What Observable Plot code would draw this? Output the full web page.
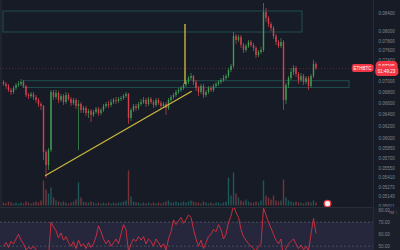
<!DOCTYPE html>
<html><head><meta charset="utf-8">
<script src="https://cdn.jsdelivr.net/npm/d3@7"></script>
<script src="https://cdn.jsdelivr.net/npm/@observablehq/plot@0.6"></script>
<style>
html,body{margin:0;padding:0;background:#171b26;}
#chart{position:relative;width:400px;height:250px;overflow:hidden;background:#171b26;font-family:"Liberation Sans",Arial,sans-serif;}
#chart svg{position:absolute;left:0;display:block;}
#edge{position:absolute;left:0;top:0;width:2px;height:250px;background:#20242f;}
</style></head><body>
<div id="chart"><div id="edge"></div></div>
<script>
// ---- data (ETHBTC-like, log price scale) ----
const firstOpen = 0.06982;
const closes = [.06945,.06908,.06833,.06797,.06870,.06926,.06945,.06982,.06908,.06742,
 .06724,.06761,.06706,.06653,.06582,.06547,.05787,.05589,.05818,.06797,
 .06706,.06779,.06653,.06724,.06617,.06742,.06670,.06600,.06653,.06547,
 .06582,.06477,.06512,.06425,.06460,.06390,.06442,.06494,.06425,.06477,
 .06547,.06582,.06564,.06617,.06653,.06635,.06670,.06688,.06724,.06761,
 .06339,.06477,.06547,.06512,.06582,.06617,.06653,.06582,.06670,.06617,
 .06564,.06653,.06600,.06547,.06582,.06512,.06653,.06706,.06742,.06797,
 .06833,.06870,.06926,.06982,.07057,.07095,.06982,.06870,.06797,.06908,
 .06742,.06797,.06870,.06833,.06908,.06945,.06982,.07019,.07057,.07095,
 .07210,.07288,.07898,.07814,.07877,.07709,.07607,.07689,.07772,.07709,
 .07648,.07505,.07566,.07607,.08423,.08288,.08157,.08069,.07898,.07772,
 .07689,.07772,.06653,.06926,.07057,.07172,.07249,.07133,.07019,.07095,
 .06982,.07057,.06908,.07095,.07327,.07249];
const highs = [.07019,.06982,.06945,.06870,.06908,.06963,.07000,.07038,.07019,.06926,
 .06779,.06797,.06797,.06742,.06688,.06617,.06564,.05818,.05850,.06833,
 .06833,.06833,.06815,.06761,.06761,.06797,.06779,.06706,.06688,.06688,
 .06653,.06617,.06547,.06547,.06494,.06494,.06477,.06529,.06529,.06512,
 .06582,.06617,.06635,.06670,.06688,.06706,.06706,.06724,.06761,.06797,
 .06779,.06512,.06582,.06582,.06617,.06670,.06706,.06688,.06706,.06706,
 .06653,.06688,.06688,.06635,.06617,.06617,.06688,.06742,.06779,.06833,
 .06870,.06908,.06963,.07019,.07095,.07152,.07114,.07019,.06908,.06945,
 .06945,.06833,.06908,.06908,.06945,.06982,.07019,.07057,.07114,.07133,
 .07249,.07327,.07983,.07940,.07919,.07919,.07751,.07730,.07814,.07814,
 .07751,.07689,.07607,.07668,.08628,.08513,.08333,.08200,.08113,.07940,
 .07814,.07856,.07814,.06963,.07095,.07249,.07307,.07288,.07172,.07152,
 .07133,.07095,.07095,.07133,.07406,.07366];
const lows = [.06908,.06851,.06797,.06742,.06761,.06833,.06889,.06908,.06870,.06706,
 .06670,.06688,.06653,.06600,.06529,.06477,.05664,.05397,.05514,.05787,
 .06653,.06670,.06600,.06617,.06564,.06582,.06635,.06547,.06564,.06494,
 .05818,.06425,.06425,.06373,.06339,.06271,.06356,.06408,.06373,.06390,
 .06442,.06512,.06512,.06529,.06582,.06582,.06600,.06635,.06653,.06688,
 .06238,.06288,.06442,.06460,.06477,.06547,.06582,.06529,.06547,.06582,
 .06512,.06529,.06564,.06494,.06512,.06390,.06477,.06617,.06670,.06706,
 .06761,.06797,.06833,.06889,.06945,.07019,.06926,.06815,.06724,.06761,
 .06688,.06706,.06761,.06797,.06797,.06870,.06908,.06945,.06982,.07019,
 .07057,.07172,.07249,.07730,.07772,.07648,.07546,.07566,.07648,.07668,
 .07586,.07445,.07465,.07525,.07566,.08200,.08091,.08004,.07835,.07709,
 .07648,.07648,.06477,.06582,.06870,.07019,.07114,.07076,.06945,.06982,
 .06926,.06945,.06833,.06870,.07057,.07210];
const volumes = [3,2,4,3,2,3,2,3,2,4, 3,2,3,4,3,5,25,16,12,18, 8,5,4,3,4,3,2,3,4,6,
 23,8,4,3,3,4,3,2,3,2, 3,2,3,2,3,2,3,3,4,5, 35,9,4,3,3,2,3,2,3,2,
 3,2,3,2,3,4,5,3,3,4, 3,3,4,3,4,5,4,3,3,2, 4,3,2,3,2,3,3,2,3,4,
 28,10,33,12,8,5,4,6,4,3, 3,4,3,5,25,10,8,6,10,5, 4,5,26,8,5,4,3,4,3,3,
 2,3,4,3,5,3];
const rsi = [50,53,49,54,52,56,60,55,52,47, 49,48,50,47,45,44,35,32,40,70,
 66,63,57,61,55,58,53,50,54,48, 55,50,52,48,53,49,52,58,67,62,
 56,52,55,50,53,56,52,60,68,64, 45,52,56,54,58,55,58,52,56,54,
 50,56,53,49,52,47,56,62,72,68, 71,74,69,72,76,74,64,56,50,55,
 48,53,58,60,64,62,68,64,56,60, 70,75,84,78,74,64,58,55,52,50,
 48,46,50,52,82,76,70,65,60,55, 52,56,40,48,52,54,56,52,48,51,
 47,50,46,60,73,61];
const priceTicks = [0.084,0.080,0.078,0.076,0.074,0.070,0.068,0.066,0.064,0.062,0.060,0.0585,0.057,0.0555,0.0541,0.0527,0.0514,0.05011];
const rsiTicks = [80,70,60,50];
const rsiBands = [70,50];
const zoneStart = [0, 8], zoneEnd = [119.6, 138.4], zoneTop = [0.08445, 0.07006], zoneBottom = [0.07983, 0.06880];
const trendIdx = [16.8, 75.1], trendPrice = [0.05441, 0.06815];
const markIdx = [72.6], markTop = [0.08156], markBottom = [0.06945];
const badgeIdx = [129.6], badgePrice = [0.05046];
const symbol = "ETHBTC";
const countdown = "01:49:23";

// ---- tables ----
const UP = "#3f9a55", DOWN = "#d8404e";
const data = closes.map((c, i) => ({
  i, close: c, open: i ? closes[i - 1] : firstOpen, high: highs[i], low: lows[i],
  vol: volumes[i], rsi: rsi[i]
}));
data.forEach(d => d.col = d.close >= d.open ? UP : DOWN);
const zones = zoneStart.map((s, k) => ({s, e: zoneEnd[k], t: zoneTop[k], b: zoneBottom[k]}));
const trend = trendIdx.map((i, k) => ({i, p: trendPrice[k]}));
const marker = markIdx.map((i, k) => ({i, t: markTop[k], b: markBottom[k]}));
const badge = badgeIdx.map((i, k) => ({i, p: badgePrice[k]}));
const last = closes[closes.length - 1];

const font = "Liberation Sans, Arial, sans-serif";
const X = {domain: [0, 148], range: [3, 373], axis: null};
const chart = document.getElementById("chart");

// volume overlay (beneath candles)
const vol = Plot.plot({
  width: 400, height: 207, marginLeft: 0, marginRight: 27, marginTop: 0, marginBottom: 0,
  style: {background: "transparent"},
  x: X, y: {domain: [0, 100], range: [205.5, 105.5], axis: null},
  color: {type: "identity"},
  marks: [
    Plot.ruleX(data, {x: "i", y1: 0, y2: "vol", stroke: d => d.col === UP ? "#26a69a" : "#ef5350", strokeOpacity: 0.45, strokeWidth: 1.4})
  ]
});
vol.style.top = "0px";
chart.appendChild(vol);

// price pane
const price = Plot.plot({
  width: 400, height: 207, marginLeft: 0, marginRight: 27, marginTop: 0, marginBottom: 0,
  style: {background: "transparent", color: "#80848f", fontFamily: font, overflow: "visible"},
  x: X,
  y: {type: "log", domain: [0.05011, 0.084], range: [205.7, 13]},
  color: {type: "identity"},
  marks: [
    Plot.frame({anchor: "right", stroke: "#262a36"}),
    Plot.rect(zones, {x1: "s", x2: "e", y1: "b", y2: "t", fill: "#26a69a", fillOpacity: 0.02, stroke: "#1f4f4e", strokeWidth: 1}),
    Plot.ruleY([last], {stroke: "#8e2f3a", strokeOpacity: 0.6, strokeDasharray: "1,2", strokeWidth: 1}),
    Plot.ruleX(data, {x: "i", y1: "low", y2: "high", stroke: "col", strokeWidth: 0.7}),
    Plot.ruleX(data, {x: "i", y1: "open", y2: "close", stroke: "col", strokeWidth: 1.4}),
    Plot.line(trend, {x: "i", y: "p", stroke: "#c9b63c", strokeWidth: 1.3}),
    Plot.ruleX(marker, {x: "i", y1: "b", y2: "t", stroke: "#c9b63c", strokeWidth: 1.4}),
    Plot.dot(badge, {x: "i", y: "p", r: 3.3, fill: "#f1f1f1", stroke: "#e53946", strokeWidth: 1.3}),
    Plot.axisY(priceTicks, {anchor: "right", tickSize: 0, tickPadding: 5, fontSize: 4.5, tickFormat: d => d.toFixed(5)}),
    Plot.text([last], {y: d => d, frameAnchor: "right", dx: 13, text: d => d.toFixed(5) + "\n" + countdown,
      fill: "white", stroke: "#f23645", strokeWidth: 6, fontSize: 4.5, lineHeight: 1.15, textAnchor: "middle"}),
    Plot.text([last], {y: d => d, frameAnchor: "right", dx: -11, text: () => symbol,
      fill: "white", stroke: "#f23645", strokeWidth: 4, fontSize: 4.5, textAnchor: "middle"})
  ]
});
price.style.top = "0px";
chart.appendChild(price);

// RSI pane
const rsiPlot = Plot.plot({
  width: 400, height: 43, marginLeft: 0, marginRight: 27, marginTop: 0, marginBottom: 0,
  style: {background: "#1b1f2a", color: "#80848f", fontFamily: font},
  x: X,
  y: {domain: [50, 80], range: [38.7, 2.7]},
  marks: [
    Plot.rect([rsiBands[0]], {y1: 30, y2: d => d, fill: "#7e57c2", fillOpacity: 0.12}),
    Plot.ruleY(rsiBands, {stroke: "#787b86", strokeOpacity: 0.45, strokeDasharray: "2,2"}),
    Plot.line(data, {x: "i", y: "rsi", stroke: "#d9303f", strokeWidth: 0.9, clip: true}),
    Plot.frame({anchor: "top", stroke: "#2a2e39"}),
    Plot.frame({anchor: "right", stroke: "#262a36"}),
    Plot.axisY(rsiTicks, {anchor: "right", tickSize: 0, tickPadding: 5, fontSize: 4.5, tickFormat: d => d.toFixed(2)})
  ]
});
rsiPlot.style.top = "207px";
chart.appendChild(rsiPlot);
</script>
</body></html>
